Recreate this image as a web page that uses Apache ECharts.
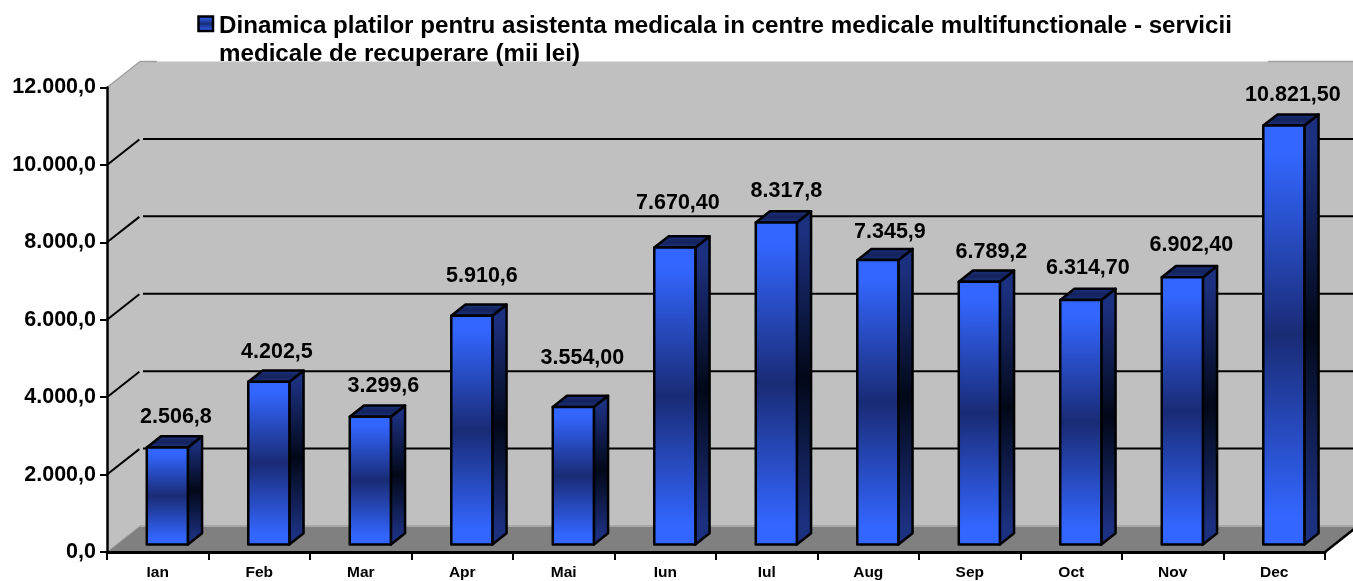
<!DOCTYPE html>
<html><head><meta charset="utf-8">
<style>html,body{margin:0;padding:0;background:#fff}#c{width:1353px;height:581px}</style>
<script src="https://cdn.jsdelivr.net/npm/echarts@6/dist/echarts.min.js"></script>
</head><body><div id="c"></div>
<script>
const months = ['Ian','Feb','Mar','Apr','Mai','Iun','Iul','Aug','Sep','Oct','Nov','Dec'];
const payments = [2506.8,4202.5,3299.6,5910.6,3554.0,7670.4,8317.8,7345.9,6789.2,6314.7,6902.4,10821.5];
const valueLabels = ['2.506,8','4.202,5','3.299,6','5.910,6','3.554,00','7.670,40','8.317,8','7.345,9','6.789,2','6.314,70','6.902,40','10.821,50'];
const gridValues = [2000,4000,6000,8000,10000];
const yTickLabels = {0:'0,0',2000:'2.000,0',4000:'4.000,0',6000:'6.000,0',8000:'8.000,0',10000:'10.000,0',12000:'12.000,0'};
const titleText = 'Dinamica platilor pentru asistenta medicala in centre medicale multifunctionale - servicii\nmedicale de recuperare (mii lei)';

// hand-moved data labels in the original chart (pixels relative to the default spot)
const labelShiftX = [1.5,1,6,3,2,-4,3,5,5,0,2,2];
const labelShiftY = [1,1,0,-9,-18,-13,0,3,1,-1,-1,1];

const FONT = '"Liberation Sans", Arial, sans-serif';
const DX = 33, DY = -26;
const G = echarts.graphic;
const grad = (a, b) => new G.LinearGradient(0,0,0,1,[
  {offset:0,color:a},{offset:.07,color:a},{offset:.5,color:b},{offset:.93,color:a},{offset:1,color:a}]);

function renderWalls(params, api) {
  const cs = params.coordSys;
  const L = cs.x, R = cs.x + cs.width, T = cs.y, B = cs.y + cs.height;
  const kids = [];
  const poly = (pts, fill) => kids.push({type:'polygon', shape:{points:pts}, style:{fill}});
  const line = (x1,y1,x2,y2,stroke,w) => kids.push({type:'line', shape:{x1,y1,x2,y2}, style:{stroke, lineWidth:w}});
  poly([[L+DX,T+DY],[R+DX,T+DY],[R+DX,B+DY],[L+DX,B+DY]], '#C0C0C0');
  poly([[L,T],[L+DX,T+DY],[L+DX,B+DY],[L,B]], '#C0C0C0');
  poly([[L,B],[L+DX,B+DY],[R+DX,B+DY],[R,B]], '#808080');
  line(L+DX,B+DY,R+DX,B+DY,'#A8A8A8',2);
  line(L,B,L+DX,B+DY,'#A0A0A0',1);
  line(L,T,L+DX,T+DY,'#A0A0A0',1.5);
  line(L+DX,T+DY,L+DX+17,T+DY,'#A0A0A0',1.5);
  line(R-57,T+DY,R+DX,T+DY,'#A0A0A0',1.5);
  gridValues.forEach(v => {
    const y = api.coord([0,v])[1];
    line(L,y,L+DX*0.98,y+DY*0.98,'#000',2);
    line(L+DX+3,y+DY,R+DX,y+DY,'#000',2);
  });
  line(R,B,R+DX,B+DY,'#000',2.5);
  return {type:'group', children:kids};
}

function renderBar(params, api) {
  const i = api.value(0), v = api.value(1);
  const band = api.size([1,0])[0];
  const base = api.coord([i,0]), top = api.coord([i,v]);
  const w = band*0.405, sx = DX*0.29, sy = DY*0.29, dx = DX*0.43, dy = DY*0.43;
  const x0 = base[0]+sx-w/2, x1 = x0+w, yb = base[1]+sy, yt = top[1]+sy;
  const st = {stroke:'#000', lineWidth:2.5, lineJoin:'round'};
  return {type:'group', children:[
    {type:'polygon', shape:{points:[[x1,yt],[x1+dx,yt+dy],[x1+dx,yb+dy],[x1,yb]]},
     style:Object.assign({fill:grad('#1C3080','#020818')},st)},
    {type:'polygon', shape:{points:[[x0,yt],[x0+dx,yt+dy],[x1+dx,yt+dy],[x1,yt]]},
     style:Object.assign({fill:grad('#1C3080','#14235C')},st)},
    {type:'rect', shape:{x:x0,y:yt,width:w,height:yb-yt},
     style:Object.assign({fill:grad('#3366FF','#192B75')},st)},
    {type:'text', style:{text:valueLabels[i], x:x0+w/2+dx/2+labelShiftX[i], y:yt-31+labelShiftY[i], align:'center', verticalAlign:'middle',
      font:'bold 21.5px '+FONT, fill:'#000'}}
  ]};
}

const chart = echarts.init(document.getElementById('c'), null, {renderer:'canvas'});
chart.setOption({
  animation:false,
  backgroundColor:'#fff',
  title:{text:titleText, left:219, top:12, padding:0,
    textStyle:{fontFamily:FONT, fontWeight:'bold', fontSize:24.15, lineHeight:28, color:'#000'}},
  graphic:[{type:'rect', z:10, shape:{x:198.5,y:16.5,width:14.5,height:14.5},
    style:{fill:grad('#3366FF','#192B75'), stroke:'#000', lineWidth:2.5}}],
  grid:{left:107, right:28, top:87.5, bottom:29, containLabel:false, outerBoundsMode:'none'},
  xAxis:{type:'category', data:months, z:5,
    axisLine:{lineStyle:{color:'#000',width:3}},
    axisTick:{show:true, length:8, alignWithLabel:false, lineStyle:{color:'#000',width:2}},
    axisLabel:{interval:0, color:'#000', fontFamily:FONT, fontWeight:'bold', fontSize:15.5, margin:12.5}},
  yAxis:{type:'value', min:0, max:12000, interval:2000, z:5,
    axisLine:{show:true, lineStyle:{color:'#000',width:2.5}},
    axisTick:{show:true, length:7, lineStyle:{color:'#000',width:2}},
    splitLine:{show:false},
    axisLabel:{color:'#000', fontFamily:FONT, fontWeight:'bold', fontSize:21.5, margin:11, padding:[2,0,0,0], formatter:v=>yTickLabels[v]}},
  series:[
    {type:'custom', name:'walls', z:1, silent:true, clip:false, renderItem:renderWalls, data:[[0,0]], encode:{x:0,y:1}},
    {type:'custom', name:'Dinamica platilor', z:3, clip:false, renderItem:renderBar,
     data:payments.map((v,i)=>[i,v]), encode:{x:0,y:1}}
  ]
});
</script></body></html>
